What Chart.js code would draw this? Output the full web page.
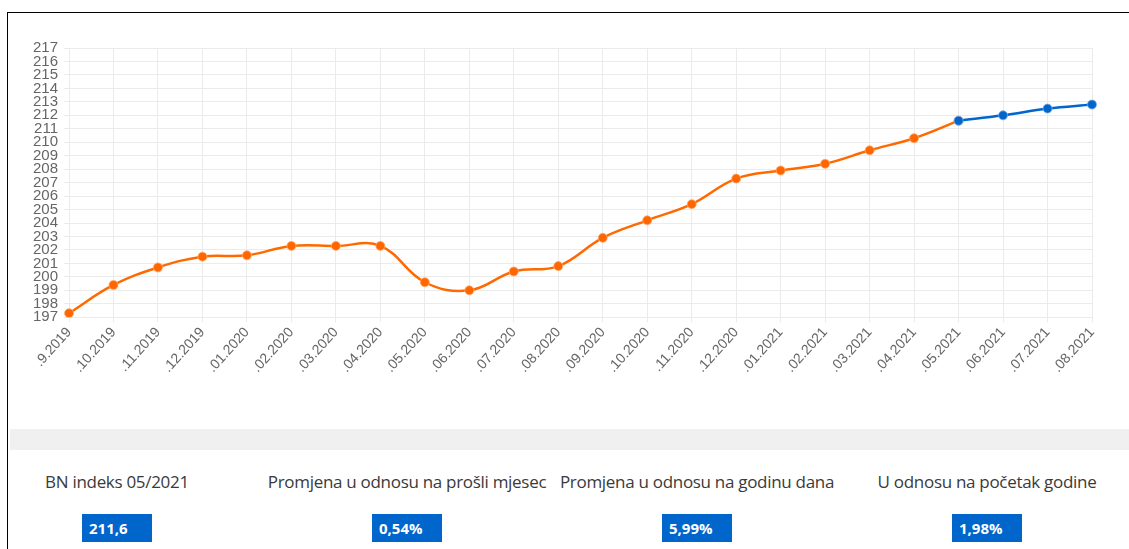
<!DOCTYPE html>
<html>
<head>
<meta charset="utf-8">
<script src="https://cdn.jsdelivr.net/npm/chart.js@4.4.1/dist/chart.umd.min.js"></script>
<style>
  body { margin: 0; background: #fff; overflow: hidden; }
  .okvir { position: absolute; left: 7px; top: 12px; width: 1200px; height: 600px;
           border-top: 1px solid #000; border-left: 1px solid #000; }
  .graf { position: absolute; left: 10px; top: 13px; width: 1119px; height: 365px; }
  .traka { position: absolute; left: 10px; top: 429px; width: 1119px; height: 21px; background: #f0f0f0; }
  .stupac { position: absolute; top: 470px; width: 300px; text-align: center;
            font-family: 'Open Sans', sans-serif; font-size: 17px; color: #3a3a3a; letter-spacing: -0.3px; }
  .kutija { display: inline-block; margin-top: 21px; width: 70px; height: 28px; background: #0066cc;
            color: #fff; font-weight: bold; font-size: 15px; line-height: 28px; text-align: left;
            box-sizing: border-box; padding-left: 7px; letter-spacing: 0; }
</style>
</head>
<body>
<div class="okvir"></div>
<div class="graf"><canvas id="bnGraf"></canvas></div>
<div class="traka"></div>
<div id="info"></div>

<script>
// mjeseci (oznake na x osi)
var mjeseci = ['.9.2019', '.10.2019', '.11.2019', '.12.2019', '.01.2020', '.02.2020', '.03.2020', '.04.2020',
  '.05.2020', '.06.2020', '.07.2020', '.08.2020', '.09.2020', '.10.2020', '.11.2020', '.12.2020',
  '.01.2021', '.02.2021', '.03.2021', '.04.2021', '.05.2021', '.06.2021', '.07.2021', '.08.2021'];

// ostvareni indeks (narandzasto)
var indeks = [197.3, 199.4, 200.7, 201.5, 201.6, 202.3, 202.3, 202.3,
  199.6, 199.0, 200.4, 200.8, 202.9, 204.2, 205.4, 207.3,
  207.9, 208.4, 209.4, 210.3, 211.6, null, null, null];

// prognoza (plavo)
var prognoza = [null, null, null, null, null, null, null, null,
  null, null, null, null, null, null, null, null,
  null, null, null, null, 211.6, 212.0, 212.5, 212.8];

// kartice ispod grafa
var naslovi = ['BN indeks 05/2021', 'Promjena u odnosu na prošli mjesec', 'Promjena u odnosu na godinu dana', 'U odnosu na početak godine'];
var vrijednosti = ['211,6', '0,54%', '5,99%', '1,98%'];
var centri = [117, 407, 697, 987];

var html = '';
for (var i = 0; i < naslovi.length; i++) {
  html += '<div class="stupac" style="left:' + (centri[i] - 150) + 'px">' + naslovi[i] +
    '<br><span class="kutija">' + vrijednosti[i] + '</span></div>';
}
document.getElementById('info').innerHTML = html;

Chart.defaults.font.family = "'Liberation Sans', Arial, sans-serif";
Chart.defaults.color = '#666';

var ctx = document.getElementById('bnGraf');
var chart = new Chart(ctx, {
  type: 'line',
  data: {
    labels: mjeseci,
    datasets: [{
      data: prognoza,
      borderColor: '#0066cc',
      backgroundColor: '#0066cc',
      pointBackgroundColor: '#0066cc',
      pointBorderColor: 'rgba(120,170,230,0.8)',
      borderWidth: 2.5,
      pointRadius: 4.5,
      pointBorderWidth: 1,
      tension: 0.4,
      fill: false
    }, {
      data: indeks,
      borderColor: '#ff6a00',
      backgroundColor: '#ff6a00',
      pointBackgroundColor: '#ff6600',
      pointBorderColor: 'rgba(255,170,110,0.8)',
      borderWidth: 2.5,
      pointRadius: 4.5,
      pointBorderWidth: 1,
      tension: 0.4,
      fill: false
    }]
  },
  options: {
    responsive: true,
    maintainAspectRatio: false,
    animation: false,
    layout: { padding: { left: 17, top: 35, right: 37, bottom: 0 } },
    plugins: { legend: { display: false }, tooltip: { enabled: false } },
    scales: {
      x: {
        grid: { color: '#ebebeb', tickLength: 5 },
        border: { color: '#ebebeb' },
        ticks: { font: { size: 14 }, minRotation: 48, maxRotation: 48, autoSkip: false, padding: 2 }
      },
      y: {
        min: 197,
        max: 217,
        grid: { color: '#ebebeb', tickLength: 5 },
        border: { color: '#ebebeb' },
        ticks: { stepSize: 1, font: { size: 15 }, autoSkip: false, padding: 6 }
      }
    }
  }
});
</script>
</body>
</html>
